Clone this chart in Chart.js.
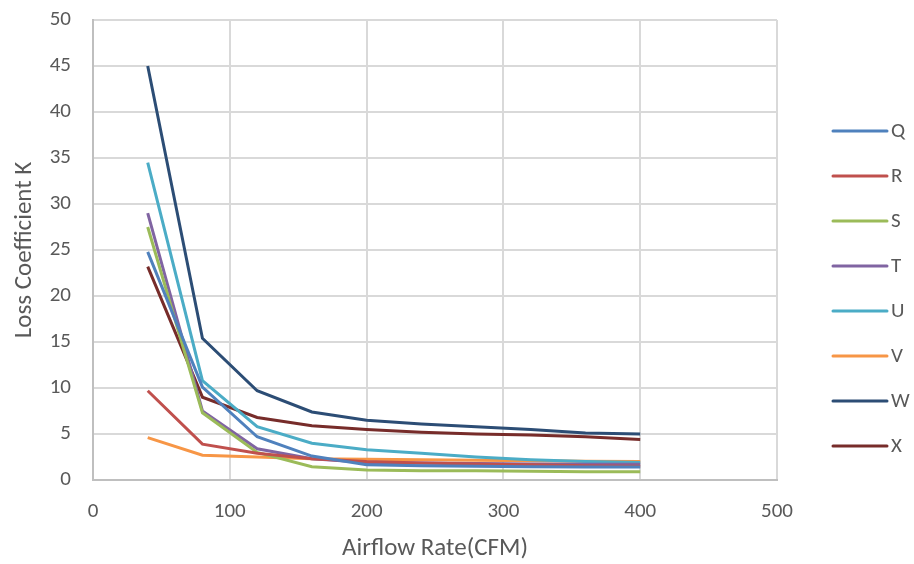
<!DOCTYPE html>
<html>
<head>
<meta charset="utf-8">
<script src="https://cdn.jsdelivr.net/npm/chart.js@4/dist/chart.umd.min.js"></script>
<style>
    html, body { margin: 0; padding: 0; background: #fff; }
    #wrap { width: 914px; height: 564px; position: relative; }
</style>
</head>
<body>
<div id="wrap"><canvas id="lossChart"></canvas></div>
<script>
// Airflow rate (CFM) sample points
const airflow = [40, 80, 120, 160, 200, 240, 280, 320, 360, 400];

// loss coefficient K for each fitting
const seriesNames = ['Q', 'R', 'S', 'T', 'U', 'V', 'W', 'X'];
const kQ = [24.8, 10.1, 4.7, 2.6, 1.65, 1.55, 1.5, 1.45, 1.4, 1.4];
const kR = [9.7, 3.9, 2.9, 2.3, 2.0, 1.85, 1.75, 1.65, 1.55, 1.5];
const kS = [27.5, 7.3, 3.0, 1.45, 1.1, 1.0, 1.0, 0.95, 0.9, 0.9];
const kT = [29.0, 7.5, 3.4, 2.3, 1.9, 1.85, 1.8, 1.75, 1.7, 1.7];
const kU = [34.5, 10.8, 5.8, 4.0, 3.3, 2.9, 2.5, 2.2, 2.0, 1.9];
const kV = [4.6, 2.7, 2.5, 2.3, 2.25, 2.2, 2.15, 2.1, 2.05, 2.0];
const kW = [45.0, 15.4, 9.7, 7.4, 6.5, 6.1, 5.8, 5.5, 5.1, 5.0];
const kX = [23.2, 9.0, 6.8, 5.9, 5.5, 5.2, 5.0, 4.9, 4.7, 4.4];
const seriesValues = [kQ, kR, kS, kT, kU, kV, kW, kX];

// axis ticks
const xTicks = [0, 100, 200, 300, 400, 500];
const yTicks = [0, 5, 10, 15, 20, 25, 30, 35, 40, 45, 50];

const colors = ['#4f81bd', '#c0504d', '#9bbb59', '#8064a2', '#4bacc6', '#f79646', '#2c4d75', '#772c2a'];
const FONT = "Carlito, Lato, 'Open Sans', sans-serif";
const TEXT = '#595959';

// legend drawn by hand so it can sit apart from the plot like the excel one
const sideLegend = {
    id: 'sideLegend',
    afterDraw(chart) {
        const ctx = chart.ctx;
        const x0 = chart.chartArea.right + 56;
        ctx.save();
        chart.data.datasets.forEach((ds, i) => {
            const y = 131 + i * 45;
            ctx.strokeStyle = ds.borderColor;
            ctx.lineWidth = 3;
            ctx.lineCap = 'round';
            ctx.beginPath();
            ctx.moveTo(x0, y);
            ctx.lineTo(x0 + 54, y);
            ctx.stroke();
            ctx.fillStyle = TEXT;
            ctx.font = '21px ' + FONT;
            ctx.textBaseline = 'middle';
            ctx.textAlign = 'left';
            ctx.fillText(ds.label, x0 + 58, y + 1);
        });
        ctx.restore();
    }
};

const datasets = seriesNames.map((name, i) => ({
    label: name,
    data: airflow.map((x, j) => ({ x: x, y: seriesValues[i][j] })),
    borderColor: colors[i],
    backgroundColor: colors[i],
    borderWidth: 3,
    pointRadius: 0,
    tension: 0,
    fill: false
}));

new Chart(document.getElementById('lossChart'), {
    type: 'line',
    data: { datasets: datasets },
    plugins: [sideLegend],
    options: {
        responsive: true, maintainAspectRatio: false, animation: false,
        layout: { padding: { top: 20, right: 137, bottom: 0, left: 0 } },
        plugins: { legend: { display: false }, tooltip: { enabled: false } },
        scales: {
            x: {
                type: 'linear', min: 0, max: 500,
                afterBuildTicks: s => { s.ticks = xTicks.map(v => ({ value: v })); },
                afterFit: s => { s.height = 84; s.paddingTop = 0; s.paddingBottom = 0; },
                grid: { color: '#d9d9d9', lineWidth: 2, drawTicks: false },
                border: { color: '#bfbfbf', width: 2 },
                ticks: { color: TEXT, font: { family: FONT, size: 21 }, padding: 19 },
                title: { display: true, text: 'Airflow Rate(CFM)', color: TEXT,
                         font: { family: FONT, size: 25 }, padding: { top: 0, bottom: 0 } }
            },
            y: {
                min: 0, max: 50,
                afterBuildTicks: s => { s.ticks = yTicks.map(v => ({ value: v })); },
                afterFit: s => { s.width = 93; s.paddingTop = 0; s.paddingBottom = 0; },
                grid: { color: '#d9d9d9', lineWidth: 2, drawTicks: false },
                border: { color: '#bfbfbf', width: 2 },
                ticks: { color: TEXT, font: { family: FONT, size: 21 }, padding: 22 },
                title: { display: true, text: 'Loss Coefficient K', color: TEXT,
                         font: { family: FONT, size: 25 }, padding: { top: 10, bottom: 0 } }
            }
        }
    }
});
</script>
</body>
</html>
